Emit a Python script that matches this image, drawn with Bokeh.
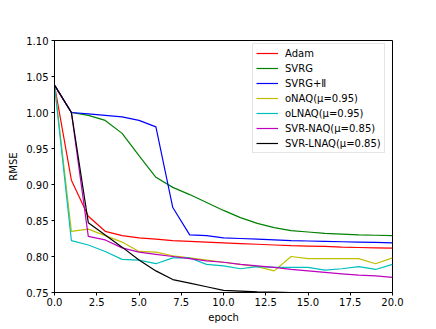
from bokeh.plotting import figure
from bokeh.models import Range1d, FixedTicker, Legend, LegendItem, NumeralTickFormatter
from bokeh.embed import file_html
from bokeh.resources import INLINE

epochs = list(range(21))
adam = [1.038, 0.906, 0.856, 0.835, 0.829, 0.826, 0.824, 0.822, 0.821, 0.820, 0.819,
        0.818, 0.817, 0.816, 0.815, 0.8145, 0.814, 0.813, 0.8125, 0.812, 0.8115]
svrg = [1.038, 1.000, 0.996, 0.989, 0.971, 0.940, 0.910, 0.896, 0.886, 0.875, 0.864,
        0.854, 0.846, 0.840, 0.836, 0.834, 0.832, 0.831, 0.830, 0.8295, 0.829]
svrg_ii = [1.038, 1.000, 0.998, 0.996, 0.994, 0.989, 0.980, 0.868, 0.830, 0.829, 0.826,
           0.825, 0.824, 0.823, 0.822, 0.8215, 0.821, 0.8205, 0.820, 0.8195, 0.819]
onaq = [1.038, 0.835, 0.838, 0.829, 0.820, 0.807, 0.806, 0.801, 0.798, 0.795, 0.792,
        0.789, 0.786, 0.780, 0.800, 0.797, 0.797, 0.797, 0.797, 0.790, 0.798]
olnaq = [1.038, 0.822, 0.816, 0.807, 0.796, 0.795, 0.790, 0.798, 0.798, 0.789, 0.787,
         0.783, 0.786, 0.785, 0.785, 0.785, 0.781, 0.783, 0.786, 0.782, 0.789]
svr_naq = [1.038, 1.000, 0.828, 0.823, 0.812, 0.806, 0.803, 0.800, 0.797, 0.794, 0.792,
           0.789, 0.787, 0.785, 0.782, 0.780, 0.778, 0.776, 0.774, 0.773, 0.771]
svr_lnaq = [1.038, 1.000, 0.847, 0.830, 0.813, 0.795, 0.780, 0.768, 0.763, 0.758, 0.753,
            0.752, 0.751, 0.7505, 0.750, 0.7495, 0.749, 0.7485, 0.748, 0.7475, 0.747]

series_names = ["Adam", "SVRG", "SVRG+Ⅱ", "oNAQ(μ=0.95)", "oLNAQ(μ=0.95)",
                "SVR-NAQ(μ=0.85)", "SVR-LNAQ(μ=0.85)"]
series_values = [adam, svrg, svrg_ii, onaq, olnaq, svr_naq, svr_lnaq]
series_colors = ["#ff0000", "#008000", "#0000ff", "#bfbf00", "#00bfbf", "#bf00bf", "#000000"]

x_ticks = [0, 2.5, 5, 7.5, 10, 12.5, 15, 17.5, 20]
y_ticks = [0.75, 0.80, 0.85, 0.90, 0.95, 1.00, 1.05, 1.10]

FONT = "DejaVu Sans"
FS = "10px"

p = figure(width=436, height=329, output_backend="svg", toolbar_location=None,
           x_range=Range1d(0, 20), y_range=Range1d(0.75, 1.10),
           min_border_left=54, min_border_right=44, min_border_top=40, min_border_bottom=37)
p.background_fill_color = "white"
p.border_fill_color = "white"
p.outline_line_color = "black"
p.outline_line_width = 1
p.xgrid.visible = False
p.ygrid.visible = False

items = []
for name, vals, col in zip(series_names, series_values, series_colors):
    r = p.line(epochs, vals, line_color=col, line_width=1.2)
    items.append(LegendItem(label=name, renderers=[r]))

for ax in (p.xaxis[0], p.yaxis[0]):
    ax.axis_line_color = "black"
    ax.major_tick_line_color = "black"
    ax.minor_tick_line_color = None
    ax.major_tick_out = 3
    ax.major_tick_in = 0
    ax.major_label_text_font = FONT
    ax.major_label_text_font_size = FS
    ax.major_label_text_color = "black"
    ax.axis_label_text_font = FONT
    ax.axis_label_text_font_size = FS
    ax.axis_label_text_font_style = "normal"
    ax.axis_label_text_color = "black"

p.xaxis.ticker = FixedTicker(ticks=x_ticks)
p.yaxis.ticker = FixedTicker(ticks=y_ticks)
p.xaxis.formatter = NumeralTickFormatter(format="0.0")
p.yaxis.formatter = NumeralTickFormatter(format="0.00")
p.xaxis.axis_label = "epoch"
p.yaxis.axis_label = "RMSE"
p.xaxis.major_label_standoff = 2
p.yaxis.major_label_standoff = 3
p.xaxis.axis_label_standoff = 3
p.yaxis.axis_label_standoff = 4

legend = Legend(items=items, location=(198, 139))
legend.label_text_font = FONT
legend.label_text_font_size = FS
legend.label_text_color = "black"
legend.label_height = 12
legend.glyph_height = 12
legend.glyph_width = 22
legend.label_standoff = 7
legend.spacing = 3
legend.padding = 3
legend.margin = 0
legend.border_line_color = "#cccccc"
legend.border_line_width = 1
legend.background_fill_color = "white"
legend.background_fill_alpha = 0.8
p.add_layout(legend, "center")

open("out.html", "w").write(file_html(p, INLINE))
